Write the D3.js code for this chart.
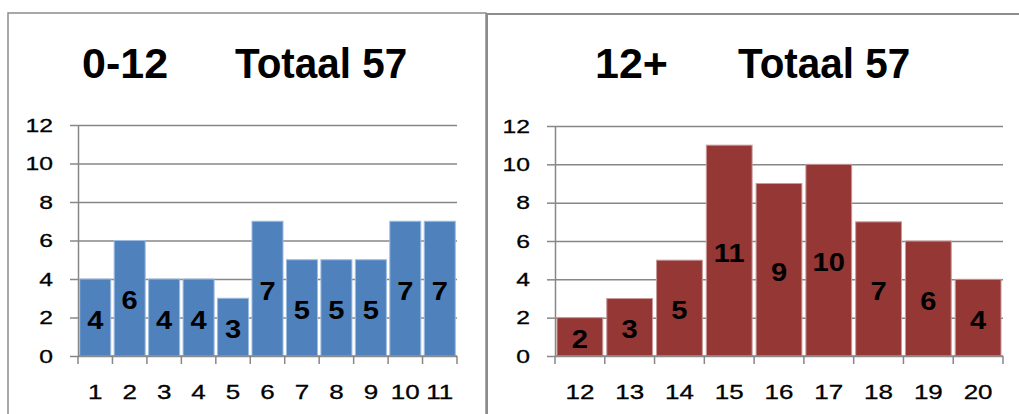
<!DOCTYPE html>
<html>
<head>
  <script src='https://d3js.org/d3.v7.min.js'></script>
  <style>
    body { margin: 0; background: white; }
    text { font-family: 'Liberation Sans', sans-serif; }
  </style>
</head>
<body>
  <svg id="canvas" width="1019" height="414"></svg>
  <script>
    // data for the two panels
    const youngAges = ['1', '2', '3', '4', '5', '6', '7', '8', '9', '10', '11'];
    const youngCounts = [4, 6, 4, 4, 3, 7, 5, 5, 5, 7, 7];
    const olderAges = ['12', '13', '14', '15', '16', '17', '18', '19', '20'];
    const olderCounts = [2, 3, 5, 11, 9, 10, 7, 6, 4];
    const yTicks = [0, 2, 4, 6, 8, 10, 12];
    const youngTitle = ['0-12', 'Totaal 57'];
    const olderTitle = ['12+', 'Totaal 57'];

    const svg = d3.select('svg#canvas');
    svg.append('rect').attr('width', 1019).attr('height', 414).attr('fill', 'white');

    // panel frames
    svg.append('rect')
      .attr('x', 8).attr('y', 13).attr('width', 478).attr('height', 430)
      .attr('fill', 'none').attr('stroke', '#8c8c8c').attr('stroke-width', 1.5);
    svg.append('rect')
      .attr('x', 487).attr('y', 14).attr('width', 560).attr('height', 430)
      .attr('fill', 'none').attr('stroke', '#8c8c8c').attr('stroke-width', 2);

    // the original text is a bit wider than Liberation Sans, so stretch horizontally
    const tickStretch = 1.3;
    const valStretch = 1.12;

    function drawPanel(opts) {
      const g = svg.append('g');
      const x = d3.scaleBand().domain(opts.cats).range([opts.left, opts.right])
        .paddingInner(opts.pad).paddingOuter(opts.pad / 2);
      const y = d3.scaleLinear().domain([0, 12]).range([opts.bottom, opts.top]);

      // gridlines
      g.append('g')
        .attr('transform', `translate(${opts.left},0)`)
        .call(d3.axisLeft(y).tickValues(yTicks).tickSize(-(opts.right - opts.left)).tickFormat(''))
        .call(a => a.select('.domain').remove())
        .selectAll('line').attr('stroke', '#878787').attr('stroke-width', 1.5);

      // y axis
      const ya = g.append('g')
        .attr('transform', `translate(${opts.left},0)`)
        .call(d3.axisLeft(y).tickValues(yTicks).tickSize(8).tickSizeOuter(0).tickPadding(17));
      ya.attr('font-size', 19).attr('font-family', 'Liberation Sans, sans-serif');
      ya.select('.domain').attr('stroke', '#878787').attr('stroke-width', 1.5);
      ya.selectAll('line').attr('stroke', '#878787').attr('stroke-width', 1.5);
      ya.selectAll('text').attr('fill', 'black')
        .attr('stroke', 'black').attr('stroke-width', 0.3)
        .attr('x', -25 / tickStretch)
        .attr('transform', `scale(${tickStretch},1)`);

      // bars
      g.selectAll('rect.bar').data(opts.values).join('rect')
        .attr('class', 'bar')
        .attr('x', (d, i) => x(opts.cats[i]))
        .attr('y', d => y(d))
        .attr('width', x.bandwidth())
        .attr('height', d => y(0) - y(d))
        .attr('fill', opts.color)
        .attr('stroke', opts.edge).attr('stroke-width', 1);

      // x axis line with ticks at category boundaries
      const bounds = d3.range(opts.cats.length + 1).map(i => opts.left + i * x.step());
      g.append('line')
        .attr('x1', opts.left).attr('x2', opts.right)
        .attr('y1', y(0)).attr('y2', y(0))
        .attr('stroke', '#878787').attr('stroke-width', 1.5);
      g.selectAll('line.xtick').data(bounds).join('line')
        .attr('class', 'xtick')
        .attr('x1', d => d).attr('x2', d => d)
        .attr('y1', y(0)).attr('y2', y(0) + 8)
        .attr('stroke', '#878787').attr('stroke-width', 1.5);

      // category labels
      g.selectAll('text.xlab').data(opts.cats).join('text')
        .attr('class', 'xlab')
        .attr('transform', d => `translate(${x(d) + x.bandwidth() / 2},${y(0) + 43}) scale(${tickStretch},1)`)
        .attr('text-anchor', 'middle')
        .attr('stroke', 'black').attr('stroke-width', 0.3)
        .style('font-size', '20px')
        .text(d => d);

      // value labels in the middle of each bar
      g.selectAll('text.val').data(opts.values).join('text')
        .attr('class', 'val')
        .attr('transform', (d, i) =>
          `translate(${x(opts.cats[i]) + x.bandwidth() / 2},${(y(d) + y(0)) / 2 + 11}) scale(${valStretch},1)`)
        .attr('text-anchor', 'middle')
        .style('font-size', '26px').style('font-weight', 'bold')
        .text(d => d);

      // title in two parts
      g.append('text')
        .attr('x', opts.t1).attr('y', 78)
        .style('font-size', '43px').style('font-weight', 'bold')
        .text(opts.title[0]);
      g.append('text')
        .attr('transform', `translate(${opts.t2},78) scale(0.94,1)`)
        .style('font-size', '43px').style('font-weight', 'bold')
        .text(opts.title[1]);
    }

    drawPanel({
      cats: youngAges, values: youngCounts, title: youngTitle,
      left: 78, right: 457, top: 125, bottom: 356, pad: 0.1,
      color: '#4f81bd', edge: '#9dbbe0', t1: 82, t2: 235
    });
    drawPanel({
      cats: olderAges, values: olderCounts, title: olderTitle,
      left: 555, right: 1003, top: 126, bottom: 356, pad: 0.08,
      color: '#953735', edge: '#c99a99', t1: 595, t2: 738
    });
  </script>
</body>
</html>
